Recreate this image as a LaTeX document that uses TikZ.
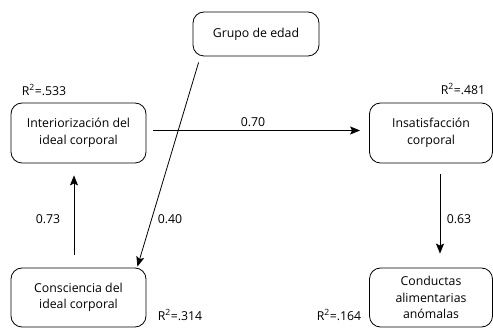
\documentclass[tikz,border=0pt]{standalone}
\usepackage{fontspec}
\setmainfont{Open Sans}
\usetikzlibrary{arrows.meta}
\begin{document}
\begin{tikzpicture}[x=1pt,y=-1pt,
  box/.style={draw, line width=0.8pt, rounded corners=11pt, align=center, inner sep=0pt, font=\fontsize{12.3}{16.5}\selectfont},
  arr/.style={line width=0.8pt, -{Stealth[length=10pt,width=8pt,inset=2pt]}},
  lab/.style={font=\fontsize{12.3}{14}\selectfont, inner sep=0pt}]
\useasboundingbox (0,0) rectangle (493,328);
\node[box, minimum width=126pt, minimum height=44pt] (grupo) at (256,34) {Grupo de edad};
\node[box, minimum width=135pt, minimum height=60pt] (inter) at (78.5,133) {Interiorización del\\ideal corporal};
\node[box, minimum width=123pt, minimum height=60pt] (insat) at (431,133) {Insatisfacción\\corporal};
\node[box, minimum width=135pt, minimum height=59pt] (consc) at (78.5,297.5) {Consciencia del\\ideal corporal};
\node[box, minimum width=123pt, minimum height=59pt] (cond) at (431,297.5) {Conductas\\alimentarias\\anómalas};
\draw[arr] ([xshift=7pt,yshift=2.5pt]inter.east) -- ([xshift=-9pt,yshift=2.5pt]insat.west);
\node[lab] (l70) at (253,122) {0.70};
\draw[arr] ([xshift=6pt,yshift=-6pt]grupo.south west) -- ([xshift=-9pt,yshift=1pt]consc.north east);
\node[lab] (l40) at (170,219) {0.40};
\draw[arr] ([xshift=-4.5pt,yshift=13pt]consc.north) -- ([xshift=-4.5pt,yshift=-12pt]inter.south);
\node[lab] (l73) at (48,219) {0.73};
\draw[arr] ([xshift=9pt,yshift=-11pt]insat.south) -- ([xshift=9pt,yshift=14pt]cond.north);
\node[lab] (l63) at (459,219) {0.63};
\node[lab] (r1) at (44,90) {R\textsuperscript{2}=.533};
\node[lab] (r2) at (463,89) {R\textsuperscript{2}=.481};
\node[lab] (r3) at (180,315) {R\textsuperscript{2}=.314};
\node[lab] (r4) at (339,315) {R\textsuperscript{2}=.164};
\end{tikzpicture}
\end{document}
